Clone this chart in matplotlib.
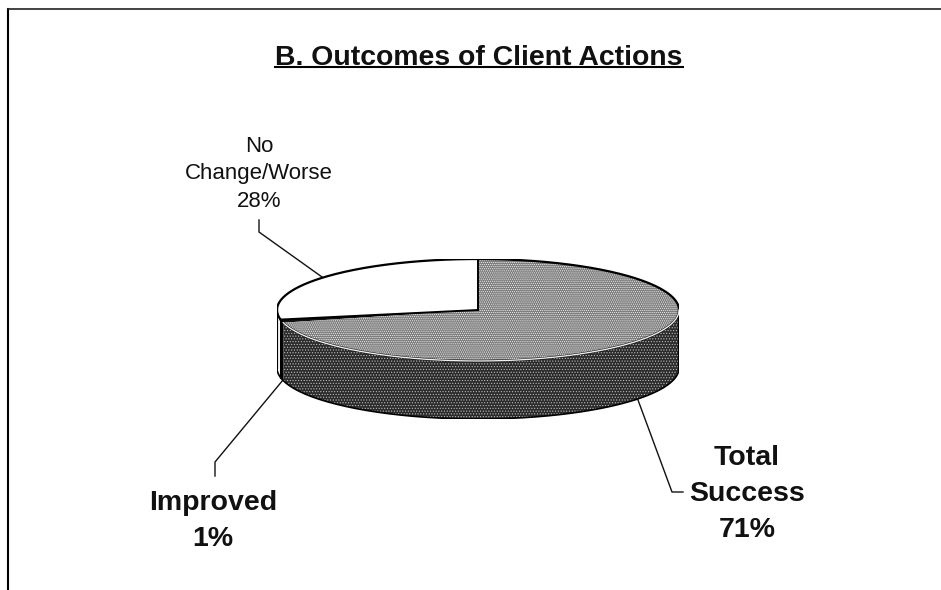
import numpy as np
import matplotlib
matplotlib.use('Agg')
import matplotlib.pyplot as plt

plt.rcParams['font.family'] = ['Liberation Sans', 'DejaVu Sans']
plt.rcParams['hatch.linewidth'] = 0.5

# data
labels = ['Total\nSuccess', 'Improved', 'No\nChange/Worse']
shares = [71, 1, 28]
top_colors = ['#7d7d7d', '#111111', '#ffffff']
wall_colors = ['#2b2b2b', '#000000', '#ffffff']
title = 'B. Outcomes of Client Actions'

W, H = 941, 590
fig = plt.figure(figsize=(W / 100, H / 100), dpi=100)

# overlay in pixel coords for frame, leaders, text
bg = fig.add_axes([0, 0, 1, 1])
bg.set_xlim(0, W)
bg.set_ylim(H, 0)
bg.axis('off')

# pie axes, squashed by hand so the slices come from ax.pie
left, right, top, bottom = 277, 679, 259, 419
ry_px = 51
depth = (bottom - top - 2 * ry_px) / ry_px
ax = fig.add_axes([left / W, 1 - bottom / H, (right - left) / W, (bottom - top) / H])
wedges, _ = ax.pie(shares, colors=top_colors, startangle=90, counterclock=False,
                   radius=1, wedgeprops=dict(edgecolor='none'))
ax.set_aspect('auto')
ax.set_xlim(-1, 1)
ax.set_ylim(-1 - depth, 1)
ax.axis('off')

# halftone look on the grey top
wedges[0].set_hatch('........')
wedges[0].set_edgecolor('#f2f2f2')
wedges[0].set_linewidth(0)
wedges[0].set_zorder(2)

# side wall, only the front half shows
ends = 90 - np.cumsum(shares) * 3.6
starts = np.r_[90, ends[:-1]]
for i in range(len(shares)):
    a0, a1 = ends[i] % 360, starts[i] % 360
    if a1 <= a0:
        a1 += 360
    a0, a1 = max(a0, 180), min(a1, 360)
    if a1 <= a0:
        continue
    th = np.radians(np.linspace(a0, a1, 120))
    x = np.cos(th)
    y = np.sin(th)
    ax.fill(np.r_[x, x[::-1]], np.r_[y, y[::-1] - depth], facecolor=wall_colors[i],
            edgecolor='#bdbdbd' if i == 0 else 'none', hatch='......' if i == 0 else None,
            lw=0, zorder=1)

# outlines
th = np.radians(np.linspace(0, 360, 400))
ax.plot(np.cos(th), np.sin(th), color='black', lw=1.6, zorder=4)
th = np.radians(np.linspace(180, 360, 200))
ax.plot(np.cos(th), np.sin(th) - depth, color='black', lw=1.2, zorder=4)
ax.plot([-1, -1], [0, -depth], color='black', lw=1.6, zorder=4)
ax.plot([1, 1], [0, -depth], color='black', lw=1.6, zorder=4)
# white slice edges and the light rim line on the grey slice
for a in [90, ends[1]]:
    ax.plot([0, np.cos(np.radians(a))], [0, np.sin(np.radians(a))], color='black', lw=1.4, zorder=4)
th = np.radians(np.linspace(ends[0] % 360, 360, 200))
ax.plot(np.cos(th), np.sin(th), color='#eeeeee', lw=1.0, zorder=5)
a = ends[1] % 360
ax.plot([np.cos(np.radians(a))] * 2, [np.sin(np.radians(a)), np.sin(np.radians(a)) - depth],
        color='black', lw=1.5, zorder=4)

# frame (left and top only, the scan is cut off)
bg.plot([8, 8], [9, H], color='black', lw=1.5)
bg.plot([8, W], [9, 9], color='#222222', lw=1.2)

# title
bg.text(479, 58, title, fontsize=20.4, fontweight='bold', ha='center', va='center', color='#111111')
bg.plot([275, 683], [67, 67], color='black', lw=1.5)

# leader lines
bg.plot([259, 259, 322], [220, 232, 277], color='#111111', lw=1.0)
bg.plot([283, 215, 215], [380, 462, 476], color='#111111', lw=1.0)
bg.plot([638, 672, 683], [400, 492, 492], color='#111111', lw=1.0)

# labels
bg.text(259, 174, f'{labels[2]}\n{shares[2]}%', fontsize=16, ha='center', va='center',
        linespacing=1.42, color='#111111')
bg.text(213, 521, f'{labels[1]}\n{shares[1]}%', fontsize=20.5, fontweight='bold', ha='center',
        va='center', linespacing=1.45, color='#111111')
bg.text(747, 494, f'{labels[0]}\n{shares[0]}%', fontsize=20.5, fontweight='bold', ha='center',
        va='center', linespacing=1.49, color='#111111')

fig.savefig('out.png', dpi=100)
